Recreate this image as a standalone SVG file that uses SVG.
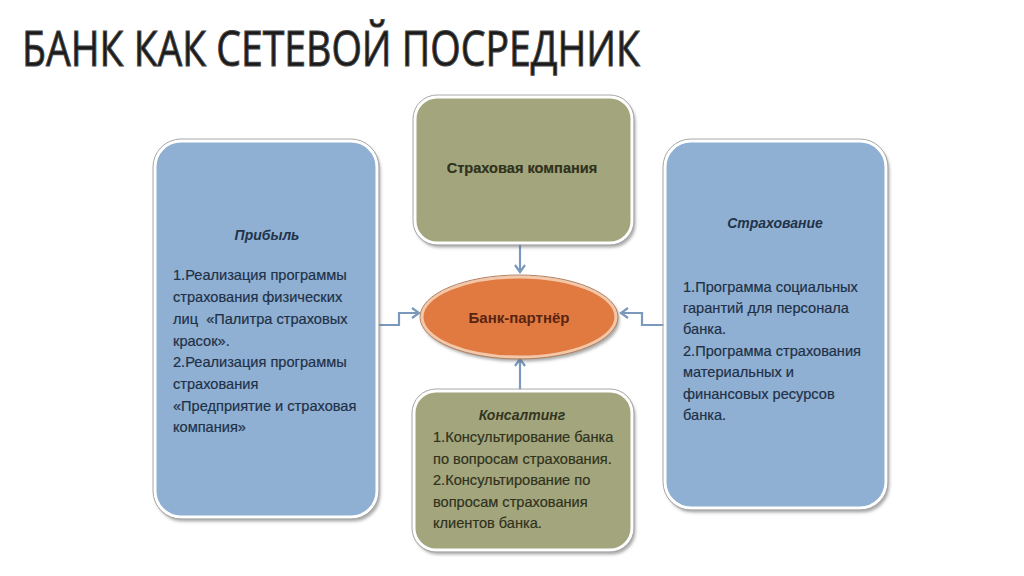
<svg xmlns="http://www.w3.org/2000/svg" width="1024" height="576" viewBox="0 0 1024 576">
<defs>
<style>
.title{font-family:"Open Sans","Liberation Sans",sans-serif;font-size:50px;fill:#1a1a1a;stroke:#444;stroke-width:1.1}
.box{stroke:#ffffff;stroke-width:3}
.edge{stroke:#a8a8a8;stroke-width:1;fill:none}
.blue{fill:#8fb0d2}
.olive{fill:#a3a67d}
.txt{font-family:"Liberation Sans",Arial,sans-serif;font-size:14.6px;fill:#1f3048;stroke:#1f3048;stroke-width:0.2}
.head{font-family:"Liberation Sans",Arial,sans-serif;font-size:14px;font-weight:bold;font-style:italic;fill:#22334a;text-anchor:middle}
.otxt{font-family:"Liberation Sans",Arial,sans-serif;font-size:14.6px;fill:#30321c;stroke:#30321c;stroke-width:0.2}
.ohead{font-family:"Liberation Sans",Arial,sans-serif;font-size:14px;font-weight:bold;font-style:italic;fill:#33351f;text-anchor:middle}
.conn{stroke:#7b98bd;stroke-width:2.2;fill:none}
</style>
<filter id="sh" x="-10%" y="-10%" width="130%" height="130%">
<feDropShadow dx="2" dy="3" stdDeviation="1.5" flood-color="#555" flood-opacity="0.5"/>
</filter>
<marker id="arr" markerWidth="12" markerHeight="12" refX="9" refY="6" orient="auto" markerUnits="userSpaceOnUse">
<path d="M2,1 L9,6 L2,11" fill="none" stroke="#7b98bd" stroke-width="2.2"/>
</marker>
</defs>
<rect width="1024" height="576" fill="#ffffff"/>
<text class="title" x="22" y="66" textLength="618" lengthAdjust="spacingAndGlyphs">БАНК КАК СЕТЕВОЙ ПОСРЕДНИК</text>

<g id="connectors">
<path class="conn" d="M379,325 H399 V313 H419" marker-end="url(#arr)"/>
<path class="conn" d="M664,325 H642 V313 H621" marker-end="url(#arr)"/>
<path class="conn" d="M520,244 V272" marker-end="url(#arr)"/>
<path class="conn" d="M520,391 V359" marker-end="url(#arr)"/>
</g>

<g id="node-profit">
<rect class="blue box" x="155" y="141" width="222" height="376" rx="26" filter="url(#sh)"/>
<rect class="edge" x="153" y="139" width="226" height="380" rx="28"/>
<text class="head" x="267" y="240">Прибыль</text>
<text class="txt" x="173" y="280">1.Реализация программы</text>
<text class="txt" x="173" y="302">страхования физических</text>
<text class="txt" x="173" y="324" xml:space="preserve">лиц  «Палитра страховых</text>
<text class="txt" x="173" y="346">красок».</text>
<text class="txt" x="173" y="367">2.Реализация программы</text>
<text class="txt" x="173" y="389">страхования</text>
<text class="txt" x="173" y="411">«Предприятие и страховая</text>
<text class="txt" x="173" y="432">компания»</text>
</g>

<g id="node-insurer">
<rect class="olive box" x="415" y="97" width="217" height="146" rx="22" filter="url(#sh)"/>
<rect class="edge" x="413" y="95" width="221" height="150" rx="24"/>
<text class="otxt" x="522" y="173" text-anchor="middle" font-weight="bold">Страховая компания</text>
</g>

<g id="node-insurance">
<rect class="blue box" x="665" y="141" width="221" height="367" rx="26" filter="url(#sh)"/>
<rect class="edge" x="663" y="139" width="225" height="371" rx="28"/>
<text class="head" x="775" y="228">Страхование</text>
<text class="txt" x="683" y="292">1.Программа социальных</text>
<text class="txt" x="683" y="313">гарантий для персонала</text>
<text class="txt" x="683" y="334">банка.</text>
<text class="txt" x="683" y="356">2.Программа страхования</text>
<text class="txt" x="683" y="377">материальных и</text>
<text class="txt" x="683" y="399">финансовых ресурсов</text>
<text class="txt" x="683" y="420">банка.</text>
</g>

<g id="node-bank">
<ellipse cx="519" cy="317" rx="97" ry="40" fill="#e07a40" stroke="#f3c7a8" stroke-width="3" filter="url(#sh)"/>
<ellipse cx="519" cy="317" rx="99" ry="42" fill="none" stroke="#b08060" stroke-width="1"/>
<text x="519" y="323" text-anchor="middle" font-family="Liberation Sans, Arial, sans-serif" font-size="15" font-weight="bold" fill="#5a2412">Банк-партнёр</text>
</g>

<g id="node-consulting">
<rect class="olive box" x="414" y="391" width="218" height="159" rx="22" filter="url(#sh)"/>
<rect class="edge" x="412" y="389" width="222" height="163" rx="24"/>
<text class="ohead" x="522" y="420">Консалтинг</text>
<text class="otxt" x="433" y="442">1.Консультирование банка</text>
<text class="otxt" x="433" y="464">по вопросам страхования.</text>
<text class="otxt" x="433" y="485">2.Консультирование по</text>
<text class="otxt" x="433" y="507">вопросам страхования</text>
<text class="otxt" x="433" y="528">клиентов банка.</text>
</g>
</svg>
